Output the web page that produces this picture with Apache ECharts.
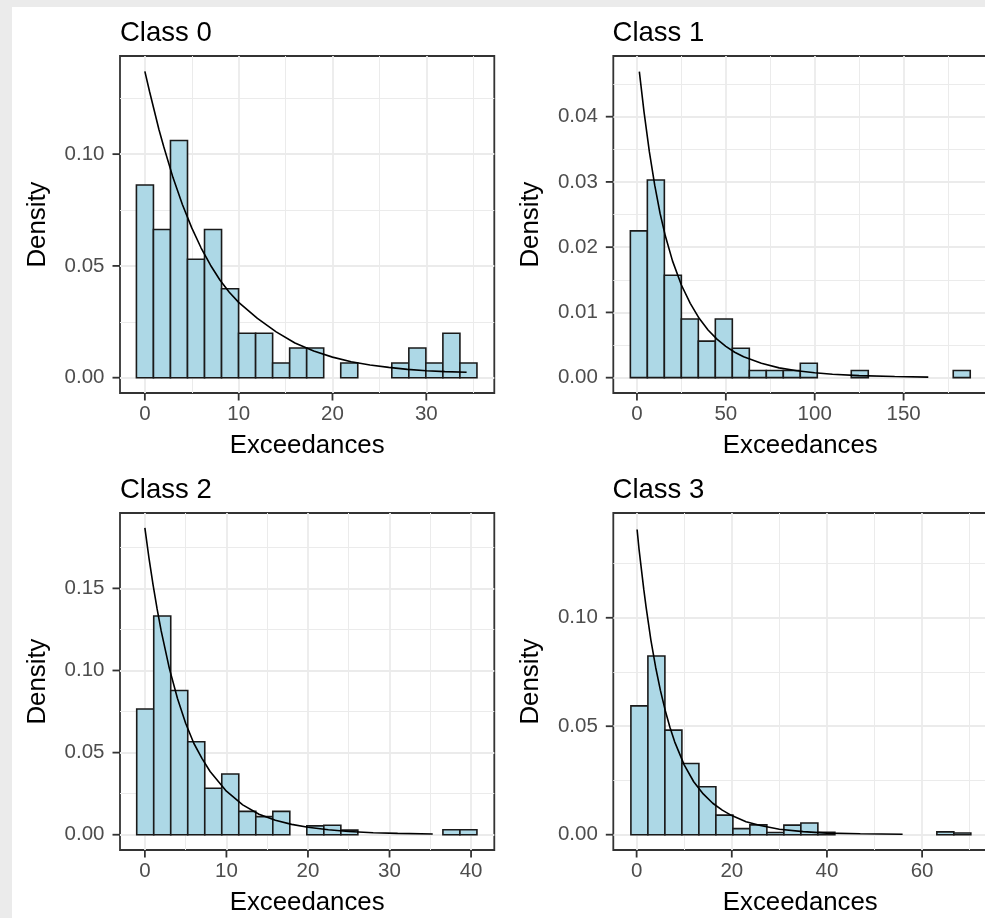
<!DOCTYPE html>
<html>
<head>
<meta charset="utf-8">
<script src="https://cdn.jsdelivr.net/npm/echarts@6/dist/echarts.min.js"></script>
<style>
  html, body { margin: 0; padding: 0; background: #ebebeb; width: 985px; height: 918px; overflow: hidden; }
  #chart { position: absolute; left: 12px; top: 7px; width: 973px; height: 911px; background: #ffffff; }
</style>
</head>
<body>
<div id="chart"></div>
<script>
// ---------------- data ----------------
const classTitles = ['Class 0', 'Class 1', 'Class 2', 'Class 3'];

// histogram bins: first bin start and common width (20 equal bins each)
const class0BinStart = -0.9,  class0BinWidth = 1.815;
const class1BinStart = -3.7,  class1BinWidth = 9.56;
const class2BinStart = -1.0,  class2BinWidth = 2.086;
const class3BinStart = -1.2,  class3BinWidth = 3.572;

// bar heights (density)
const class0Density = [0.0862, 0.0663, 0.1061, 0.0530, 0.0663, 0.0398, 0.0199, 0.0199, 0.0066, 0.0133,
                       0.0133, 0, 0.0066, 0, 0, 0.0066, 0.0133, 0.0066, 0.0199, 0.0066];
const class1Density = [0.0225, 0.0303, 0.0157, 0.0090, 0.0056, 0.0090, 0.0045, 0.0011, 0.0011, 0.0011,
                       0.0022, 0, 0, 0.0011, 0, 0, 0, 0, 0, 0.0011];
const class2Density = [0.0766, 0.1332, 0.0878, 0.0566, 0.0283, 0.0370, 0.0142, 0.0110, 0.0142, 0,
                       0.0054, 0.0058, 0.0028, 0, 0, 0, 0, 0, 0.0030, 0.0030];
const class3Density = [0.0594, 0.0824, 0.0482, 0.0328, 0.0221, 0.0090, 0.0028, 0.0045, 0.0010, 0.0044,
                       0.0054, 0.0011, 0, 0, 0, 0, 0, 0, 0.0013, 0.0008];

// fitted density curves
const class0CurveX = [0, 0.5, 1, 1.5, 2, 3, 4, 5, 6, 7, 8, 9, 10, 12, 14, 16, 18, 20, 22, 24, 26, 28, 30, 32, 34.3];
const class0CurveY = [0.137, 0.128, 0.1195, 0.111, 0.1035, 0.0895, 0.0775, 0.0670, 0.0580, 0.0503, 0.0437, 0.0382, 0.0337,
                      0.0265, 0.0205, 0.0155, 0.0119, 0.0092, 0.0071, 0.0057, 0.0046, 0.0037, 0.0031, 0.0027, 0.0024];
const class1CurveX = [1.35, 4, 7, 10, 13, 16, 20, 25, 30, 35, 40, 45, 50, 55, 60, 70, 80, 90, 100, 110, 125, 145, 163.9];
const class1CurveY = [0.0469, 0.0407, 0.0346, 0.0295, 0.0252, 0.0217, 0.0179, 0.0142, 0.0114, 0.0091, 0.0073, 0.0059,
                      0.0048, 0.0039, 0.0032, 0.0022, 0.0015, 0.00105, 0.00075, 0.00053, 0.00032, 0.00017, 0.00009];
const class2CurveX = [0, 0.5, 1, 1.5, 2, 3, 4, 5, 6, 7, 8, 10, 12, 14, 16, 18, 20, 22.5, 25, 28, 31, 35.3];
const class2CurveY = [0.1869, 0.1686, 0.1523, 0.1375, 0.1241, 0.1013, 0.0829, 0.0679, 0.0557, 0.0465, 0.0385, 0.0265,
                      0.0182, 0.0125, 0.0088, 0.0063, 0.0046, 0.0030, 0.0020, 0.0012, 0.0008, 0.0004];
const class3CurveX = [0.1, 0.5, 1, 1.5, 2, 3, 4, 5, 6, 7, 8, 10, 12, 14, 16, 18, 20, 23, 26, 30, 35, 40, 47, 55.9];
const class3CurveY = [0.1407, 0.1318, 0.1224, 0.1132, 0.1048, 0.0897, 0.0772, 0.0665, 0.0574, 0.0495, 0.0428, 0.0322,
                      0.0244, 0.0188, 0.0145, 0.0113, 0.0088, 0.0060, 0.0042, 0.0025, 0.0014, 0.0007, 0.0004, 0.0002];

// tick labels
const class0XTicks = [0, 10, 20, 30];
const class1XTicks = [0, 50, 100, 150];
const class2XTicks = [0, 10, 20, 30, 40];
const class3XTicks = [0, 20, 40, 60];
const class0YTicks = [0, 0.05, 0.10];
const class1YTicks = [0, 0.01, 0.02, 0.03, 0.04];
const class2YTicks = [0, 0.05, 0.10, 0.15];
const class3YTicks = [0, 0.05, 0.10];

const xAxisTitle = 'Exceedances';
const yAxisTitle = 'Density';

// ---------------- layout / style ----------------
const FONT = 'Liberation Sans, Arial, sans-serif';
const TICK_LEN = 7.5;
const panels = [
  { binStart: class0BinStart, binWidth: class0BinWidth, dens: class0Density, cx: class0CurveX, cy: class0CurveY,
    xt: class0XTicks, yt: class0YTicks, xr: [-2.65, 37.25], yr: [-0.00685, 0.1439], xs: 4, ys: 3,
    grid: { left: 108, top: 49, width: 374.3, height: 337 }, title: { left: 108, top: 12 } },
  { binStart: class1BinStart, binWidth: class1BinWidth, dens: class1Density, cx: class1CurveX, cy: class1CurveY,
    xt: class1XTicks, yt: class1YTicks, xr: [-13.3, 197.1], yr: [-0.00235, 0.0493], xs: 4, ys: 5,
    grid: { left: 601.3, top: 49, width: 374, height: 337 }, title: { left: 600.6, top: 12 } },
  { binStart: class2BinStart, binWidth: class2BinWidth, dens: class2Density, cx: class2CurveX, cy: class2CurveY,
    xt: class2XTicks, yt: class2YTicks, xr: [-3.05, 42.85], yr: [-0.0093, 0.1959], xs: 4, ys: 4,
    grid: { left: 108, top: 506, width: 374.3, height: 337 }, title: { left: 108, top: 469.5 } },
  { binStart: class3BinStart, binWidth: class3BinWidth, dens: class3Density, cx: class3CurveX, cy: class3CurveY,
    xt: class3XTicks, yt: class3YTicks, xr: [-4.9, 73.7], yr: [-0.00706, 0.1483], xs: 4, ys: 3,
    grid: { left: 601.3, top: 506, width: 374, height: 337 }, title: { left: 600.6, top: 469.5 } }
];

function barRender(params, api) {
  const x0 = api.value(0), x1 = api.value(1), d = api.value(2);
  if (!(d > 0)) return { type: 'group', children: [] };
  const p0 = api.coord([x0, d]);
  const p1 = api.coord([x1, 0]);
  return {
    type: 'rect',
    shape: { x: p0[0], y: p0[1], width: p1[0] - p0[0], height: p1[1] - p0[1] },
    style: { fill: '#add8e6', stroke: '#1a1a1a', lineWidth: 1.6 }
  };
}

// tick marks drawn through the axes' own scales
function makeTickRender(panel, dim) {
  return function (params, api) {
    const v = api.value(0);
    let a, b;
    if (dim === 'y') {
      a = api.coord([panel.xr[0], v]);
      b = [a[0] - TICK_LEN, a[1]];
    } else {
      a = api.coord([v, panel.yr[0]]);
      b = [a[0], a[1] + TICK_LEN];
    }
    return {
      type: 'line',
      shape: { x1: a[0], y1: a[1], x2: b[0], y2: b[1] },
      style: { stroke: '#333333', lineWidth: 1.8 }
    };
  };
}

const option = {
  animation: false,
  backgroundColor: '#ffffff',
  title: [], grid: [], xAxis: [], yAxis: [], series: []
};

panels.forEach((p, i) => {
  option.title.push({
    text: classTitles[i], left: p.title.left, top: p.title.top, padding: 0,
    textStyle: { fontFamily: FONT, fontSize: 27.5, fontWeight: 'normal', color: '#000000' }
  });
  option.grid.push(Object.assign({
    show: true, backgroundColor: '#ffffff', borderColor: '#333333', borderWidth: 1.8,
    containLabel: false, outerBoundsMode: 'none'
  }, p.grid));
  option.xAxis.push({
    type: 'value', gridIndex: i, min: p.xr[0], max: p.xr[1], splitNumber: p.xs, position: 'bottom',
    axisLine: { show: false, onZero: false },
    axisTick: { show: false, customValues: p.xt },
    axisLabel: { customValues: p.xt, color: '#4d4d4d', fontSize: 20.5, fontFamily: FONT, margin: 10.5,
                 formatter: v => String(Math.round(v)) },
    splitLine: { show: true, lineStyle: { color: '#ebebeb', width: 1.8 } },
    minorTick: { show: false, splitNumber: 2 },
    minorSplitLine: { show: true, lineStyle: { color: '#ebebeb', width: 1 } },
    name: xAxisTitle, nameLocation: 'middle', nameGap: 40,
    nameTextStyle: { fontFamily: FONT, fontSize: 25.8, color: '#000000' }
  });
  option.yAxis.push({
    type: 'value', gridIndex: i, min: p.yr[0], max: p.yr[1], splitNumber: p.ys, position: 'left',
    axisLine: { show: false, onZero: false },
    axisTick: { show: false, customValues: p.yt },
    axisLabel: { customValues: p.yt, color: '#4d4d4d', fontSize: 20.5, fontFamily: FONT, margin: 15.5,
                 formatter: v => v.toFixed(2) },
    splitLine: { show: true, lineStyle: { color: '#ebebeb', width: 1.8 } },
    minorTick: { show: false, splitNumber: 2 },
    minorSplitLine: { show: true, lineStyle: { color: '#ebebeb', width: 1 } },
    name: yAxisTitle, nameLocation: 'middle', nameRotate: 90, nameGap: 69,
    nameTextStyle: { fontFamily: FONT, fontSize: 25.8, color: '#000000' }
  });
  const barData = p.dens.map((d, k) => [p.binStart + k * p.binWidth, p.binStart + (k + 1) * p.binWidth, d]);
  option.series.push({
    type: 'custom', xAxisIndex: i, yAxisIndex: i, renderItem: barRender,
    encode: { x: [0, 1], y: 2 }, data: barData, silent: true
  });
  option.series.push({
    type: 'line', xAxisIndex: i, yAxisIndex: i, showSymbol: false, symbol: 'none',
    smooth: false, silent: true,
    lineStyle: { color: '#000000', width: 1.6 },
    data: p.cx.map((x, k) => [x, p.cy[k]])
  });
  option.series.push({
    type: 'custom', xAxisIndex: i, yAxisIndex: i, renderItem: makeTickRender(p, 'y'),
    clip: false, silent: true, encode: { y: 0 }, data: p.yt.map(v => [v])
  });
  option.series.push({
    type: 'custom', xAxisIndex: i, yAxisIndex: i, renderItem: makeTickRender(p, 'x'),
    clip: false, silent: true, encode: { x: 0 }, data: p.xt.map(v => [v])
  });
});

const chart = echarts.init(document.getElementById('chart'), null, { renderer: 'canvas' });
chart.setOption(option);
</script>
</body>
</html>
